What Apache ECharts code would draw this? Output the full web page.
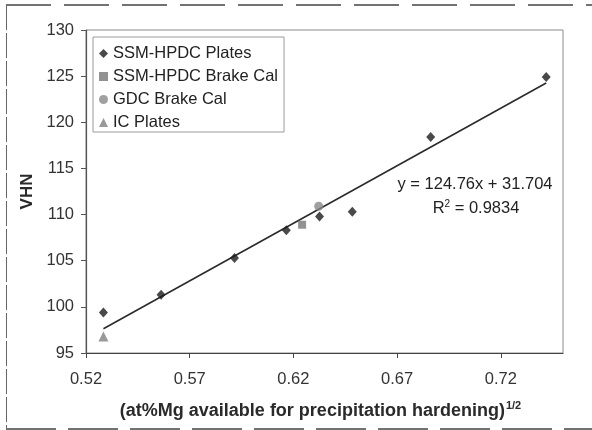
<!DOCTYPE html>
<html>
<head>
<meta charset="utf-8">
<style>
  html, body { margin: 0; padding: 0; background: #fff; }
  #chart { width: 592px; height: 430px; }
</style>
<script src="https://cdn.jsdelivr.net/npm/echarts@6/dist/echarts.min.js"></script>
</head>
<body>
<div id="chart"></div>
<script>
// Hardness (VHN) against square root of Mg available for precipitation hardening
const plateX = [0.5284, 0.5562, 0.5916, 0.6166, 0.6326, 0.6484, 0.6862, 0.7419];
const plateY = [99.4, 101.3, 105.3, 108.3, 109.8, 110.3, 118.4, 124.9];
const brakeX = [0.6242];
const brakeY = [108.9];
const gdcX = [0.6322];
const gdcY = [110.9];
const icX = [0.5284];
const icY = [96.8];

// Linear fit as stated on the chart
const fitSlope = 124.76;
const fitIntercept = 31.704;
const fitRange = [0.5284, 0.7419];
const fitR2 = '0.9834';

const xTicks = [0.52, 0.57, 0.62, 0.67, 0.72];
const yTicks = [95, 100, 105, 110, 115, 120, 125, 130];

const pairs = (xs, ys) => xs.map((x, i) => [x, ys[i]]);
const fitLine = fitRange.map(x => [x, fitSlope * x + fitIntercept]);

const FONT = '"Liberation Sans", Arial, sans-serif';
const FS = 16.5;

const chart = echarts.init(document.getElementById('chart'), null, { renderer: 'canvas' });

chart.setOption({
  backgroundColor: '#ffffff',
  animation: false,
  textStyle: { fontFamily: FONT },
  grid: {
    left: 86, right: 29, top: 30, bottom: 77,
    show: true, borderColor: '#8a8a8a', borderWidth: 1, backgroundColor: '#fff'
  },
  legend: {
    orient: 'vertical',
    left: 93, top: 37,
    padding: [8, 6, 1, 6],
    borderColor: '#9a9a9a', borderWidth: 1,
    itemWidth: 9, itemHeight: 9, itemGap: 6,
    textStyle: { fontFamily: FONT, fontSize: FS, color: '#222', lineHeight: 16 },
    data: ['SSM-HPDC Plates', 'SSM-HPDC Brake Cal', 'GDC Brake Cal', 'IC Plates']
  },
  xAxis: {
    type: 'value',
    min: 0.52, max: 0.75,
    name: '{m|(at%Mg available for precipitation hardening)}{s|1/2}',
    nameLocation: 'middle',
    nameGap: 47,
    nameTextStyle: {
      padding: [0, 8, 0, 0],
      rich: {
        m: { fontFamily: FONT, fontSize: 18, fontWeight: 'bold', color: '#2a2a2a', lineHeight: 20, verticalAlign: 'bottom' },
        s: { fontFamily: FONT, fontSize: 11, fontWeight: 'bold', color: '#2a2a2a', lineHeight: 20, verticalAlign: 'top', padding: [0, 0, 0, 1] }
      }
    },
    axisLine: { show: true, onZero: false, lineStyle: { color: '#444', width: 1.2 } },
    axisTick: { show: true, length: 5, customValues: xTicks, lineStyle: { color: '#444' } },
    axisLabel: {
      customValues: xTicks,
      formatter: v => v.toFixed(2),
      margin: 18,
      fontFamily: FONT, fontSize: FS, color: '#333'
    },
    splitLine: { show: false }
  },
  yAxis: {
    type: 'value',
    min: 95, max: 130,
    name: 'VHN',
    nameLocation: 'middle',
    nameGap: 49,
    nameTextStyle: { fontFamily: FONT, fontSize: 17, fontWeight: 'bold', color: '#2a2a2a' },
    axisLine: { show: true, onZero: false, lineStyle: { color: '#555', width: 1.2 } },
    axisTick: { show: true, length: 5, customValues: yTicks, lineStyle: { color: '#555' } },
    axisLabel: {
      customValues: yTicks,
      margin: 12,
      fontFamily: FONT, fontSize: FS, color: '#333'
    },
    splitLine: { show: false }
  },
  series: [
    {
      name: 'Linear fit',
      type: 'line',
      data: fitLine,
      showSymbol: false,
      symbol: 'none',
      lineStyle: { color: '#2b2b2b', width: 1.6 },
      z: 2,
      silent: true
    },
    {
      name: 'SSM-HPDC Plates',
      type: 'scatter',
      data: pairs(plateX, plateY),
      symbol: 'diamond',
      symbolSize: [9, 10],
      itemStyle: { color: '#1c1c1c' },
      z: 3
    },
    {
      name: 'SSM-HPDC Brake Cal',
      type: 'scatter',
      data: pairs(brakeX, brakeY),
      symbol: 'rect',
      symbolSize: 8,
      itemStyle: { color: '#777777' },
      z: 3
    },
    {
      name: 'GDC Brake Cal',
      type: 'scatter',
      data: pairs(gdcX, gdcY),
      symbol: 'circle',
      symbolSize: 9,
      itemStyle: { color: '#888888' },
      z: 3
    },
    {
      name: 'IC Plates',
      type: 'scatter',
      data: pairs(icX, icY),
      symbol: 'triangle',
      symbolSize: 10,
      itemStyle: { color: '#808080' },
      z: 3
    }
  ],
  graphic: [
    {
      type: 'text',
      x: 475, y: 184,
      style: {
        text: 'y = ' + fitSlope + 'x + ' + fitIntercept,
        font: FS + 'px ' + FONT,
        fill: '#222',
        align: 'center',
        verticalAlign: 'middle'
      }
    },
    {
      type: 'text',
      x: 476, y: 208,
      style: {
        text: '{r|R}{s|2}{r| = ' + fitR2 + '}',
        align: 'center',
        verticalAlign: 'middle',
        rich: {
          r: { fontFamily: FONT, fontSize: FS, fill: '#222', lineHeight: 18, verticalAlign: 'bottom' },
          s: { fontFamily: FONT, fontSize: 10, fill: '#222', lineHeight: 18, verticalAlign: 'top' }
        }
      }
    },
    // scanned page frame
    {
      type: 'line',
      shape: { x1: 6, y1: 5, x2: 592, y2: 5 },
      style: { stroke: '#444', lineWidth: 1.5, lineDash: [45, 13] }
    },
    {
      type: 'line',
      shape: { x1: 6, y1: 429, x2: 592, y2: 429 },
      style: { stroke: '#444', lineWidth: 1.5, lineDash: [50, 12] }
    },
    {
      type: 'line',
      shape: { x1: 6.5, y1: 5, x2: 6.5, y2: 429 },
      style: { stroke: '#666', lineWidth: 1, lineDash: [25, 3] }
    }
  ]
});
</script>
</body>
</html>
